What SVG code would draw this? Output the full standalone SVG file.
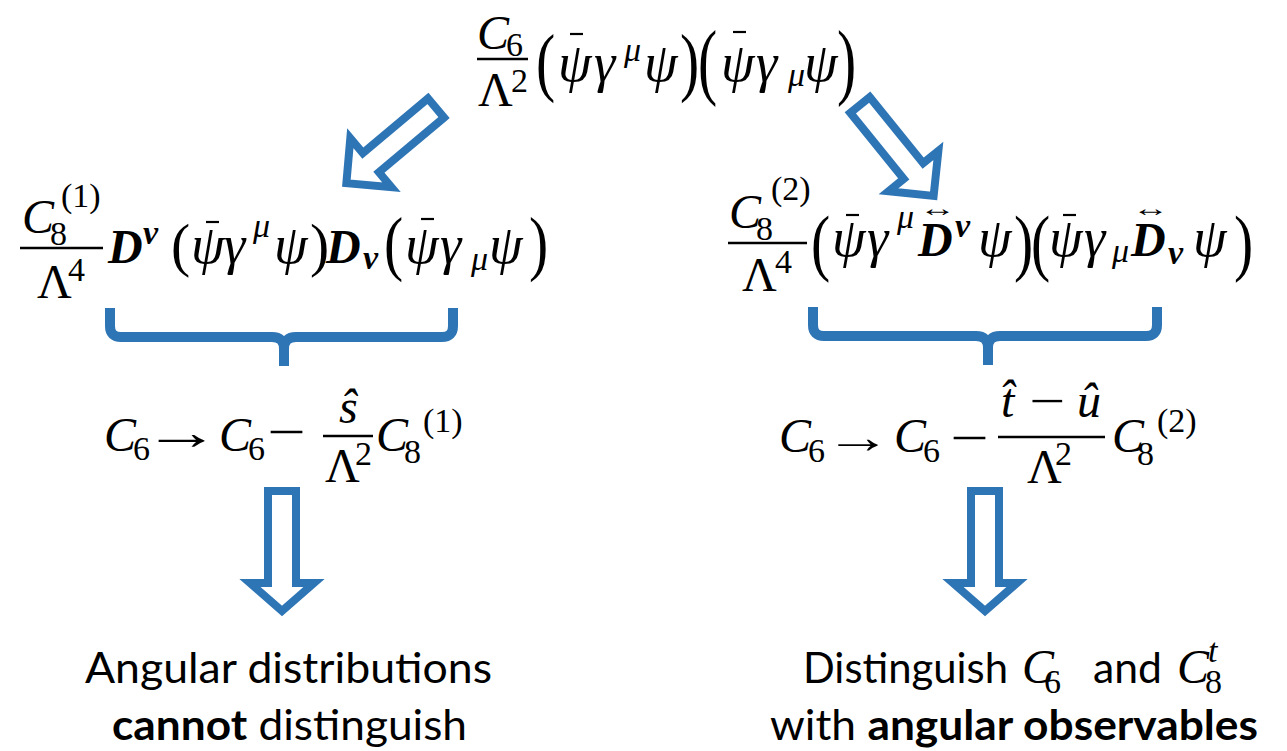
<svg xmlns="http://www.w3.org/2000/svg" width="1287" height="751" viewBox="0 0 1287 751">
<style>
.m{font-family:"Liberation Serif","DejaVu Serif",serif;font-size:48px;fill:#000}
.i{font-style:italic}
.b{font-weight:bold;font-style:italic}
.g{font-style:italic;font-size:54px}
.s{font-size:34px}
.t{font-family:Lato,"Liberation Sans",sans-serif;font-size:42px;fill:#000}
.blk{fill:#fff;stroke:#2E75B6;stroke-width:8;stroke-miterlimit:10}
.brace{fill:none;stroke:#2E75B6;stroke-width:10}
.bar{stroke:#000;stroke-width:2.5}
.mac{stroke:#000;stroke-width:2.2}
</style>
<rect width="1287" height="751" fill="#fff"/>

<g id="top">
<text class="m">
<tspan class="i" x="477" y="49">C</tspan>
<tspan class="s" x="506" y="56">6</tspan>
<tspan x="478" y="106">Λ</tspan>
<tspan class="s" x="511" y="92">2</tspan>
<tspan class="g" x="558" y="81">ψ</tspan>
<tspan class="g" x="594" y="81">γ</tspan>
<tspan class="i s" x="624" y="61">μ</tspan>
<tspan class="g" x="644" y="81">ψ</tspan>
<tspan class="g" x="721" y="81">ψ</tspan>
<tspan class="g" x="756" y="81">γ</tspan>
<tspan class="i s" x="788" y="86">μ</tspan>
<tspan class="g" x="804" y="81">ψ</tspan>
</text>
<text class="m" transform="translate(536,87) scale(1.2,1.575)">(</text>
<text class="m" transform="translate(680,87) scale(1.2,1.575)">)</text>
<text class="m" transform="translate(698,88.6) scale(1.2,1.775)">(</text>
<text class="m" transform="translate(837,88.6) scale(1.2,1.775)">)</text>
<line class="bar" x1="477" y1="59" x2="528" y2="59"/>
<line class="mac" x1="570" y1="34" x2="583" y2="34"/>
<line class="mac" x1="733" y1="32" x2="746" y2="32"/>
</g>

<g id="left-operator">
<text class="m">
<tspan class="i" x="22" y="233">C</tspan>
<tspan class="s" x="50" y="245">8</tspan>
<tspan class="s" x="61" y="207">(1)</tspan>
<tspan x="37" y="298">Λ</tspan>
<tspan class="s" x="68" y="281">4</tspan>
<tspan class="b" x="108" y="263">D</tspan>
<tspan class="b s" x="143" y="244">ν</tspan>
<tspan class="g" x="191" y="263">ψ</tspan>
<tspan class="g" x="224" y="263">γ</tspan>
<tspan class="i s" x="253" y="237">μ</tspan>
<tspan class="g" x="274" y="263">ψ</tspan>
<tspan class="b" x="326" y="263">D</tspan>
<tspan class="b s" x="363" y="269">ν</tspan>
<tspan class="g" x="405" y="263">ψ</tspan>
<tspan class="g" x="440" y="263">γ</tspan>
<tspan class="i s" x="471" y="270">μ</tspan>
<tspan class="g" x="489" y="263">ψ</tspan>
</text>
<text class="m" transform="translate(171,265) scale(1.2,1.25)">(</text>
<text class="m" transform="translate(310,265) scale(1.2,1.25)">)</text>
<text class="m" transform="translate(384,267) scale(1.2,1.5)">(</text>
<text class="m" transform="translate(529,267) scale(1.2,1.5)">)</text>
<line class="bar" x1="20" y1="248" x2="103" y2="248"/>
<line class="mac" x1="206" y1="222" x2="219" y2="222"/>
<line class="mac" x1="421" y1="219" x2="434" y2="219"/>
</g>

<g id="right-operator">
<text class="m">
<tspan class="i" x="729" y="228">C</tspan>
<tspan class="s" x="756" y="240">8</tspan>
<tspan class="s" x="771" y="200">(2)</tspan>
<tspan x="742" y="291">Λ</tspan>
<tspan class="s" x="775" y="273">4</tspan>
<tspan class="g" x="832" y="256">ψ</tspan>
<tspan class="g" x="867" y="256">γ</tspan>
<tspan class="i s" x="897" y="228">μ</tspan>
<tspan class="b" x="918" y="256">D</tspan>
<tspan class="b s" x="955" y="237">ν</tspan>
<tspan class="g" x="978" y="256">ψ</tspan>
<tspan class="g" x="1049" y="256">ψ</tspan>
<tspan class="g" x="1084" y="256">γ</tspan>
<tspan class="i s" x="1112" y="262">μ</tspan>
<tspan class="b" x="1131" y="256">D</tspan>
<tspan class="b s" x="1168" y="264">ν</tspan>
<tspan class="g" x="1193" y="256">ψ</tspan>
</text>
<text class="m" transform="translate(811,267) scale(1.2,1.55)">(</text>
<text class="m" transform="translate(1014,267) scale(1.2,1.55)">)</text>
<text class="m" transform="translate(1031,267) scale(1.2,1.55)">(</text>
<text class="m" transform="translate(1234,267) scale(1.2,1.55)">)</text>
<text class="m" x="919" y="216" style="font-size:24px" textLength="37" lengthAdjust="spacingAndGlyphs">↔</text>
<text class="m" x="1132" y="216" style="font-size:24px" textLength="37" lengthAdjust="spacingAndGlyphs">↔</text>
<line class="bar" x1="728" y1="243" x2="807" y2="243"/>
<line class="mac" x1="846" y1="215" x2="859" y2="215"/>
<line class="mac" x1="1063" y1="215" x2="1076" y2="215"/>
</g>

<g id="left-shift">
<text class="m">
<tspan class="i" x="104" y="451">C</tspan>
<tspan class="s" x="133" y="460">6</tspan>
<tspan class="i" x="219" y="451">C</tspan>
<tspan class="s" x="248" y="460">6</tspan>
<tspan class="i" x="339" y="423">ŝ</tspan>
<tspan x="325" y="482">Λ</tspan>
<tspan class="s" x="355" y="465">2</tspan>
<tspan class="i" x="376" y="451">C</tspan>
<tspan class="s" x="404" y="463">8</tspan>
<tspan class="s" x="423" y="432">(1)</tspan>
</text>
<text class="m" transform="translate(143,449) scale(1.55,1)" style="font-size:50px">→</text>
<text class="m" transform="translate(267,448) scale(1.42,1)">−</text>
<line class="bar" x1="323" y1="436" x2="373" y2="436"/>
</g>

<g id="right-shift">
<text class="m">
<tspan class="i" x="779" y="452">C</tspan>
<tspan class="s" x="808" y="462">6</tspan>
<tspan class="i" x="894" y="452">C</tspan>
<tspan class="s" x="923" y="462">6</tspan>
<tspan class="i" x="1001" y="417">t̂</tspan>
<tspan class="i" x="1077" y="417">û</tspan>
<tspan x="1027" y="483">Λ</tspan>
<tspan class="s" x="1055" y="465">2</tspan>
<tspan class="i" x="1112" y="452">C</tspan>
<tspan class="s" x="1137" y="465">8</tspan>
<tspan class="s" x="1157" y="432">(2)</tspan>
</text>
<text class="m" transform="translate(825,452.5) scale(1.45,1)" style="font-size:46px">→</text>
<text class="m" transform="translate(950,454) scale(1.42,1)">−</text>
<text class="m" transform="translate(1029,417) scale(1.33,1)">−</text>
<line class="bar" x1="998" y1="437" x2="1105" y2="437"/>
</g>

<g id="left-result">
<text class="t" x="85" y="683" textLength="407" lengthAdjust="spacingAndGlyphs">Angular distributions</text>
<text class="t" x="112" y="740" textLength="355" lengthAdjust="spacingAndGlyphs"><tspan font-weight="bold">cannot</tspan> distinguish</text>
</g>

<g id="right-result">
<text class="t" x="803" y="683" textLength="205" lengthAdjust="spacingAndGlyphs">Distinguish</text>
<text class="m"><tspan class="i" x="1022" y="683">C</tspan><tspan class="s" x="1044" y="693">6</tspan></text>
<text class="t" x="1093" y="683" textLength="69" lengthAdjust="spacingAndGlyphs">and</text>
<text class="m"><tspan class="i" x="1177" y="683">C</tspan><tspan class="s" x="1205" y="693">8</tspan><tspan class="i s" x="1208" y="662">t</tspan></text>
<text class="t" x="770" y="740" textLength="488" lengthAdjust="spacingAndGlyphs">with <tspan font-weight="bold">angular observables</tspan></text>
</g>

<g id="connectors">
<polygon class="blk" transform="translate(436,108) rotate(140)" points="0,-12.5 85,-12.5 85,-32 117,0 85,32 85,12.5 0,12.5"/>
<polygon class="blk" transform="translate(860,105) rotate(51)" points="0,-12.5 85,-12.5 85,-32 117,0 85,32 85,12.5 0,12.5"/>
<path class="brace" d="M110,308 V326 Q110,337 121,337 H272 Q284,337 284,349 V366 M284,349 Q284,337 296,337 H442 Q453,337 453,326 V308"/>
<path class="brace" d="M813,307 V325 Q813,336 824,336 H976 Q988,336 988,348 V365 M988,348 Q988,336 1000,336 H1146 Q1157,336 1157,325 V307"/>
<polygon class="blk" points="268,491 296,491 296,583 314,583 282,611 250,583 268,583"/>
<polygon class="blk" points="971,491 999,491 999,583 1017,583 985,611 953,583 971,583"/>
</g>
</svg>
